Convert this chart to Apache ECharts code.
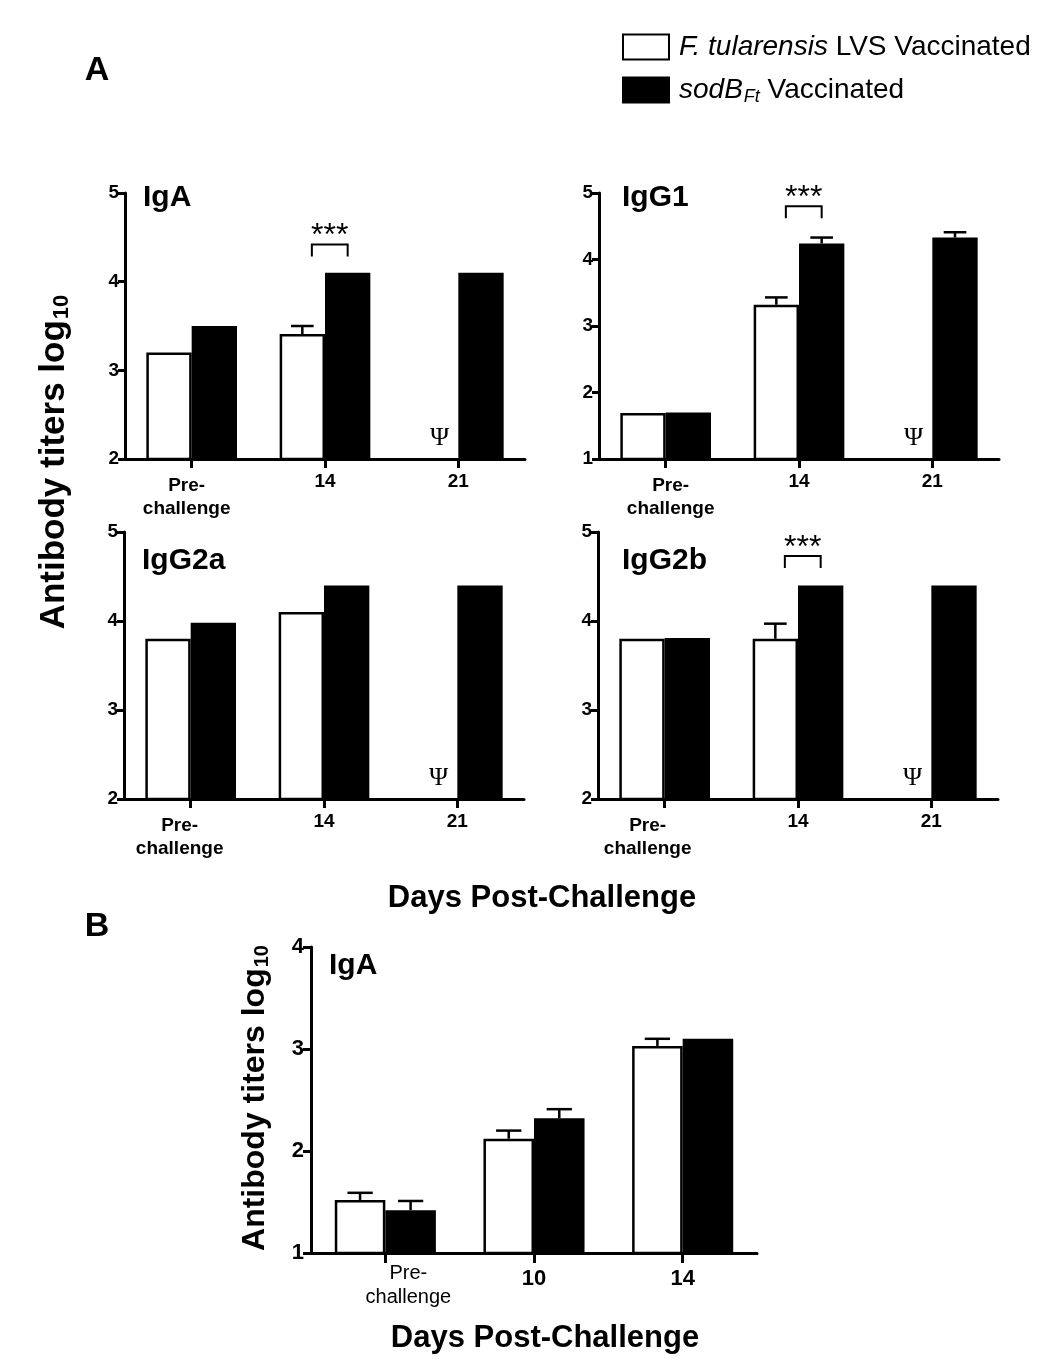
<!DOCTYPE html>
<html><head><meta charset="utf-8">
<script src="https://cdn.jsdelivr.net/npm/echarts@6/dist/echarts.min.js"></script>
<style>html,body{margin:0;padding:0;background:#fff}#c{width:1050px;height:1365px}</style>
</head><body><div id="c"></div><script>
// ---------------- DATA ----------------
const seriesNames = ['F. tularensis LVS Vaccinated', 'sodB Vaccinated'];
const daysA = ['Pre-\nchallenge', '14', '21'];
const daysB = ['Pre-\nchallenge', '10', '14'];
const panelTitles = ['IgA', 'IgG1', 'IgG2a', 'IgG2b', 'IgA'];

const igaLVS = [3.2, 3.41, null];
const igaLVSErr = [0, 0.09, 0];
const igaSod = [3.5, 4.1, 4.1];
const igaSodErr = [0, 0, 0];
const igaSig = ['', '***', ''];

const igg1LVS = [1.69, 3.32, null];
const igg1LVSErr = [0, 0.11, 0];
const igg1Sod = [1.7, 4.24, 4.33];
const igg1SodErr = [0, 0.09, 0.08];
const igg1Sig = ['', '***', ''];

const igg2aLVS = [3.8, 4.1, null];
const igg2aLVSErr = [0, 0, 0];
const igg2aSod = [3.98, 4.4, 4.4];
const igg2aSodErr = [0, 0, 0];
const igg2aSig = ['', '', ''];

const igg2bLVS = [3.8, 3.8, null];
const igg2bLVSErr = [0, 0.17, 0];
const igg2bSod = [3.81, 4.4, 4.4];
const igg2bSodErr = [0, 0, 0];
const igg2bSig = ['', '***', ''];

const bIgaLVS = [1.52, 2.12, 3.03];
const bIgaLVSErr = [0.07, 0.08, 0.07];
const bIgaSod = [1.42, 2.32, 3.1];
const bIgaSodErr = [0.09, 0.09, 0];
const bIgaSig = ['', '', ''];

const yRanges = [[2, 5], [1, 5], [2, 5], [2, 5], [1, 4]];
const missingMark = 'Ψ';

const panelData = [
  { cats: daysA, lvs: igaLVS, lvsErr: igaLVSErr, sod: igaSod, sodErr: igaSodErr, sig: igaSig },
  { cats: daysA, lvs: igg1LVS, lvsErr: igg1LVSErr, sod: igg1Sod, sodErr: igg1SodErr, sig: igg1Sig },
  { cats: daysA, lvs: igg2aLVS, lvsErr: igg2aLVSErr, sod: igg2aSod, sodErr: igg2aSodErr, sig: igg2aSig },
  { cats: daysA, lvs: igg2bLVS, lvsErr: igg2bLVSErr, sod: igg2bSod, sodErr: igg2bSodErr, sig: igg2bSig },
  { cats: daysB, lvs: bIgaLVS, lvsErr: bIgaLVSErr, sod: bIgaSod, sodErr: bIgaSodErr, sig: bIgaSig }
];

// ---------------- LAYOUT / STYLE ----------------
const FONT = '"Liberation Sans", Arial, Helvetica, sans-serif';
const SERIF = '"Liberation Serif", "DejaVu Serif", "Times New Roman", serif';
const BAR_FRAC = 0.34;
const layouts = [
  { grid: {left: 125, top: 193, width: 400, height: 266}, lab: 19, preLab: 19, preBold: true, preShift: -5, preTop: 4, numTop: 0, margin: 11, titleX: 143, titleY: 198, sigY: 4.42, yTick: 7, xTick: 9 },
  { grid: {left: 599, top: 193, width: 400, height: 266}, lab: 19, preLab: 19, preBold: true, preShift: 5, preTop: 4, numTop: 0, margin: 11, titleX: 622, titleY: 198, sigY: 4.8, yTick: 7, xTick: 9 },
  { grid: {left: 124, top: 532, width: 400, height: 267}, lab: 19, preLab: 19, preBold: true, preShift: -11, preTop: 4, numTop: 0, margin: 11, titleX: 142, titleY: 561, sigY: 4.75, yTick: 7, xTick: 9 },
  { grid: {left: 598, top: 532, width: 400, height: 267}, lab: 19, preLab: 19, preBold: true, preShift: -17, preTop: 4, numTop: 0, margin: 11, titleX: 622, titleY: 561, sigY: 4.73, yTick: 7, xTick: 9 },
  { grid: {left: 311, top: 947, width: 446, height: 306}, lab: 22, preLab: 20, preBold: false, preShift: 23, preTop: 0, numTop: 5, margin: 8, titleX: 329, titleY: 966, sigY: 3.8, yTick: 8, xTick: 10 }
];

function catData(cats, L) {
  return cats.map((c, i) => {
    if (i === 0) {
      const s = L.preShift;
      return { value: c, textStyle: {
        fontSize: L.preLab, fontWeight: L.preBold ? 'bold' : 'normal', lineHeight: L.preLab + 4,
        padding: [L.preTop, s < 0 ? -2 * s : 0, 0, s > 0 ? 2 * s : 0] } };
    }
    return { value: c, textStyle: { padding: [L.numTop, 0, 0, 0] } };
  });
}

function overlay(k) {
  const D = panelData[k];
  return {
    type: 'custom', xAxisIndex: k, yAxisIndex: k, silent: true, z: 5,
    data: D.cats.map((c, i) => [i, yRanges[k][0]]),
    encode: { x: 0, y: 1 },
    renderItem(params, api) {
      const i = params.dataIndex;
      const cs = params.coordSys;
      const bottom = cs.y + cs.height;
      const cx = api.coord([i, yRanges[k][0]])[0];
      const band = api.size([1, 0])[0];
      const bw = band * BAR_FRAC;
      const ch = [];
      const err = (x, v, e) => {
        if (v == null || !e) return;
        const y0 = api.coord([i, v])[1], y1 = api.coord([i, v + e])[1];
        const cw = bw * 0.5;
        ch.push({ type: 'line', shape: { x1: x, y1: y0, x2: x, y2: y1 }, style: { stroke: '#000', lineWidth: 2.5 } });
        ch.push({ type: 'line', shape: { x1: x - cw / 2, y1: y1, x2: x + cw / 2, y2: y1 }, style: { stroke: '#000', lineWidth: 2.5 } });
      };
      err(cx - bw / 2, D.lvs[i], D.lvsErr[i]);
      err(cx + bw / 2, D.sod[i], D.sodErr[i]);
      if (D.lvs[i] == null) {
        ch.push({ type: 'text', x: cx - bw / 2 + 4, y: bottom - 21,
          style: { text: missingMark, fontSize: 26, fontFamily: SERIF, fill: '#000',
            align: 'center', verticalAlign: 'middle', textAlign: 'center', textVerticalAlign: 'middle' } });
      }
      if (D.sig[i]) {
        const yb = api.coord([i, layouts[k].sigY])[1];
        const xl = cx - 0.29 * bw, xr = cx + 0.5 * bw;
        ch.push({ type: 'polyline', shape: { points: [[xl, yb + 12], [xl, yb], [xr, yb], [xr, yb + 12]] },
          style: { stroke: '#000', lineWidth: 2, fill: null } });
        ch.push({ type: 'text', x: (xl + xr) / 2, y: yb - 8,
          style: { text: D.sig[i], fontSize: 32, fontFamily: FONT, fill: '#000',
            align: 'center', verticalAlign: 'middle', textAlign: 'center', textVerticalAlign: 'middle' } });
      }
      return { type: 'group', children: ch };
    }
  };
}

const grids = [], xAxes = [], yAxes = [], series = [], graphics = [];
layouts.forEach((L, k) => {
  const D = panelData[k];
  grids.push(Object.assign({}, L.grid));
  xAxes.push({
    type: 'category', gridIndex: k, data: catData(D.cats, L),
    axisLine: { show: true, lineStyle: { color: '#000', width: 3 } },
    axisTick: { show: true, alignWithLabel: true, length: L.xTick, lineStyle: { color: '#000', width: 3 } },
    axisLabel: { interval: 0, margin: L.margin, color: '#000', fontFamily: FONT, fontWeight: 'bold', fontSize: L.lab, lineHeight: L.lab + 4 },
    splitLine: { show: false }
  });
  yAxes.push({
    type: 'value', gridIndex: k, min: yRanges[k][0], max: yRanges[k][1], interval: 1,
    axisLine: { show: true, lineStyle: { color: '#000', width: 3 } },
    axisTick: { show: true, length: L.yTick, lineStyle: { color: '#000', width: 3 } },
    axisLabel: { margin: L.yTick - 1, color: '#000', fontFamily: FONT, fontWeight: 'bold', fontSize: L.lab },
    splitLine: { show: false }
  });
  series.push({
    type: 'bar', name: seriesNames[0], xAxisIndex: k, yAxisIndex: k, silent: true,
    data: D.lvs.map(v => v == null ? '-' : v), barWidth: (BAR_FRAC * 100) + '%', barGap: '0%',
    itemStyle: { color: '#fff', borderColor: '#000', borderWidth: 2.5 }
  });
  series.push({
    type: 'bar', name: seriesNames[1], xAxisIndex: k, yAxisIndex: k, silent: true,
    data: D.sod.map(v => v == null ? '-' : v), barWidth: (BAR_FRAC * 100) + '%', barGap: '0%',
    itemStyle: { color: '#000', borderColor: '#000', borderWidth: 2.5 }
  });
  series.push(overlay(k));
  graphics.push({ type: 'text', x: L.titleX, y: L.titleY, silent: true,
    style: { text: panelTitles[k], fontSize: 30, fontWeight: 'bold', fontFamily: FONT, fill: '#000',
      align: 'left', verticalAlign: 'middle', textAlign: 'left', textVerticalAlign: 'middle' } });
});

function txt(x, y, text, size, extra) {
  return Object.assign({ type: 'text', x: x, y: y, silent: true,
    style: { text: text, fontSize: size, fontWeight: 'bold', fontFamily: FONT, fill: '#000',
      align: 'center', verticalAlign: 'middle', textAlign: 'center', textVerticalAlign: 'middle' } }, extra || {});
}
graphics.push(txt(97, 71, 'A', 34));
graphics.push(txt(97, 927, 'B', 34));
graphics.push(txt(542, 898, 'Days Post-Challenge', 31));
graphics.push(txt(545, 1338, 'Days Post-Challenge', 31));
const yTitle = (x, y, size) => {
  const t = txt(x, y, 'Antibody titers log{sub|10}', size, { rotation: Math.PI / 2 });
  t.style.rich = { sub: { fontSize: Math.round(size * 0.62), fontWeight: 'bold', fontFamily: FONT, fill: '#000', padding: [Math.round(size * 0.45), 0, 0, 1] } };
  return t;
};
graphics.push(yTitle(54, 462, 35));
graphics.push(yTitle(255, 1098, 32));

const chart = echarts.init(document.getElementById('c'), null, { renderer: 'canvas', width: 1050, height: 1365 });
chart.setOption({
  animation: false,
  backgroundColor: '#fff',
  grid: grids, xAxis: xAxes, yAxis: yAxes, series: series,
  legend: {
    data: seriesNames, orient: 'vertical', left: 622, top: 33, padding: 0, itemWidth: 46, itemHeight: 25, itemGap: 15,
    icon: 'rect', selectedMode: false,
    itemStyle: { borderWidth: 2 },
    textStyle: { fontSize: 28, fontFamily: FONT, color: '#000', padding: [0, 0, 0, 5],
      rich: {
        it: { fontSize: 28, fontStyle: 'italic', fontFamily: FONT, color: '#000' },
        sub: { fontSize: 18, fontStyle: 'italic', fontFamily: FONT, color: '#000', padding: [14, 0, 0, 1] }
      } },
    formatter: n => n === seriesNames[0] ? '{it|F. tularensis} LVS Vaccinated' : '{it|sodB}{sub|Ft} Vaccinated'
  },
  graphic: graphics
});
</script></body></html>
